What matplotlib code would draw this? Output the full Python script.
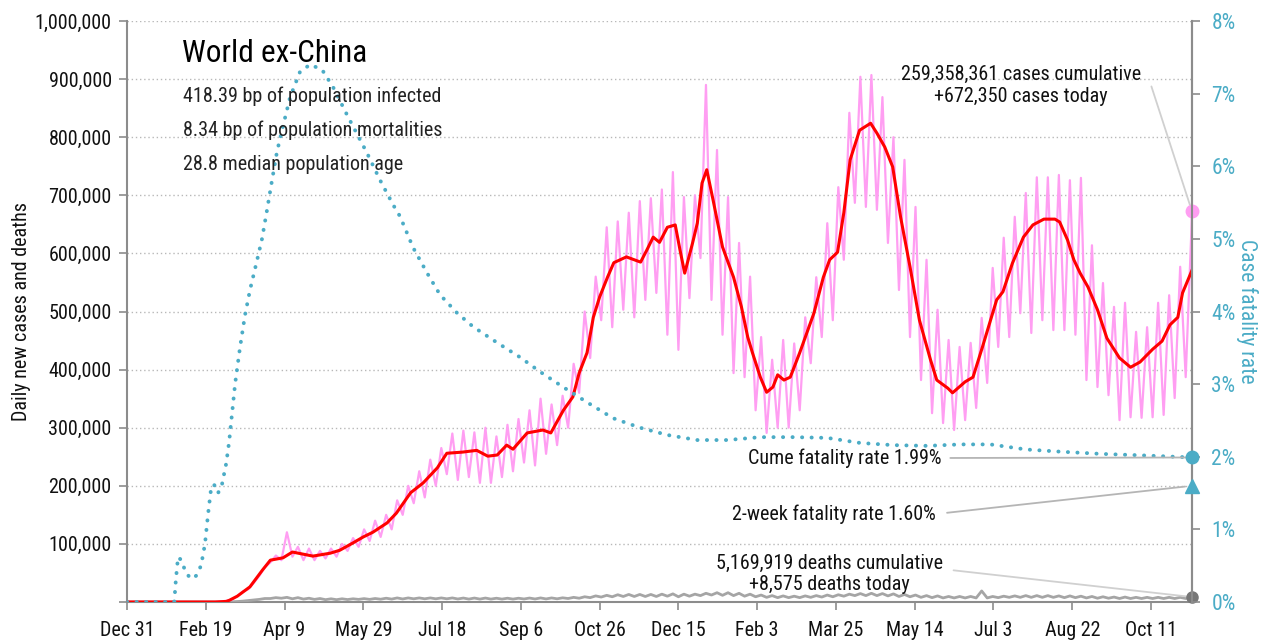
import matplotlib
matplotlib.use('Agg')
import matplotlib.pyplot as plt
from matplotlib.ticker import FuncFormatter

FONT = ['Roboto Condensed', 'Archivo Narrow', 'Liberation Sans', 'DejaVu Sans']
plt.rcParams['font.family'] = FONT

# ---------------- data ----------------
x_tick_days = [0, 50, 100, 150, 200, 250, 300, 350, 400, 450, 500, 550, 600, 650]
x_tick_labels = ['Dec 31', 'Feb 19', 'Apr 9', 'May 29', 'Jul 18', 'Sep 6', 'Oct 26',
                 'Dec 15', 'Feb 3', 'Mar 25', 'May 14', 'Jul 3', 'Aug 22', 'Oct 11']
last_day = 676

# 7-day average of daily new cases (thousands)
red_days = [0, 30, 56, 63, 65, 70, 78, 86, 91, 99, 105, 118, 129, 135, 143, 150, 156, 165,
            171, 180, 188, 197, 203, 213, 222, 229, 235, 241, 245, 254, 264, 269, 277, 283,
            287, 292, 296, 300, 305, 309, 317, 326, 330, 334, 338, 343, 348, 351, 354, 359,
            362, 365, 368, 372, 378, 385, 390, 394, 397, 402, 406, 410, 413, 417, 421, 427,
            436, 442, 446, 451, 455, 459, 465, 472, 476, 481, 486, 491, 497, 503, 510, 514,
            521, 524, 532, 537, 543, 552, 556, 562, 569, 575, 582, 589, 592, 597, 601, 605,
            610, 616, 622, 630, 637, 643, 651, 657, 662, 667, 670, 676]
red_vals = [0, 0, 0, 1, 3, 10, 26, 55, 72, 76, 86, 79, 84, 89, 101, 112, 120, 136,
            153, 188, 205, 231, 256, 258, 261, 251, 253, 270, 263, 291, 296, 291, 330, 353,
            394, 429, 490, 525, 559, 584, 594, 585, 606, 628, 619, 645, 649, 606, 566, 618,
            652, 721, 744, 692, 611, 559, 508, 456, 429, 387, 361, 370, 391, 382, 387, 429,
            497, 559, 589, 602, 670, 761, 812, 824, 807, 783, 749, 663, 577, 485, 417, 382,
            368, 360, 379, 387, 439, 520, 534, 583, 628, 649, 659, 659, 654, 623, 589, 566,
            542, 503, 454, 420, 404, 413, 435, 449, 477, 490, 532, 571]

# raw daily cases: weekly trough and peak (thousands), weeks starting at week_days
week_days = list(range(56, 673, 7))
pink_lo = [0, 2, 10, 22, 45, 68, 72, 78, 72, 72,
           75, 78, 88, 95, 105, 112, 125, 150, 170, 180,
           200, 220, 210, 215, 205, 205, 215, 225, 240, 235,
           255, 270, 300, 360, 420, 485, 473, 503, 490, 520,
           532, 460, 434, 523, 592, 520, 460, 394, 387, 330,
           291, 300, 300, 330, 411, 456, 485, 589, 687, 680,
           675, 618, 537, 456, 382, 325, 308, 296, 313, 334,
           377, 439, 456, 497, 463, 485, 468, 468, 460, 382,
           370, 356, 313, 318, 317, 318, 322, 351, 387]
pink_hi = [1, 4, 18, 33, 60, 80, 120, 95, 92, 88,
           92, 100, 110, 125, 140, 150, 175, 200, 225, 245,
           265, 290, 295, 292, 300, 285, 305, 315, 330, 350,
           340, 355, 410, 500, 560, 645, 655, 670, 690, 695,
           710, 740, 697, 700, 890, 778, 697, 618, 560, 456,
           417, 451, 445, 490, 559, 652, 714, 842, 904, 907,
           869, 800, 761, 680, 589, 503, 451, 439, 446, 489,
           575, 627, 663, 704, 731, 731, 735, 726, 730, 614,
           549, 508, 515, 465, 473, 515, 528, 577, 632]
cases_today = 672350

# daily deaths: weekly trough and peak (thousands)
death_lo = [0.0, 0.1, 0.8, 2.5, 4.5, 6.0, 6.5, 5.5, 5.0, 4.5,
            4.0, 4.0, 4.2, 4.5, 4.5, 4.8, 5.0, 5.2, 5.5, 5.5,
            5.5, 5.5, 5.2, 5.0, 5.0, 5.0, 5.0, 5.0, 5.2, 5.2,
            5.3, 5.5, 6.0, 6.5, 7.5, 8.5, 9.0, 9.5, 9.5, 9.5,
            9.5, 10.0, 9.0, 10.0, 11.0, 12.0, 11.5, 11.0, 10.0, 9.0,
            8.0, 7.5, 7.5, 7.5, 8.0, 8.5, 9.0, 10.0, 11.0, 11.0,
            11.0, 10.5, 9.5, 9.0, 8.0, 7.5, 7.0, 7.0, 7.0, 7.0,
            7.0, 7.5, 8.0, 8.0, 8.0, 8.0, 8.0, 7.5, 7.5, 7.0,
            6.5, 6.5, 6.0, 6.0, 6.0, 6.0, 6.0, 6.0, 6.0]
death_hi = [0.05, 0.3, 1.5, 3.5, 6.0, 7.5, 8.0, 7.5, 6.5, 6.0,
            5.5, 5.5, 5.5, 5.8, 6.0, 6.5, 7.0, 7.0, 7.0, 7.0,
            7.0, 7.0, 6.8, 6.8, 6.8, 6.5, 6.5, 6.5, 6.8, 7.0,
            7.0, 7.2, 8.0, 9.0, 10.5, 11.5, 12.5, 13.0, 13.0, 13.0,
            13.5, 14.0, 13.5, 13.5, 15.0, 16.0, 16.0, 15.0, 13.5, 12.0,
            11.0, 10.5, 10.0, 10.5, 11.0, 12.0, 12.5, 13.5, 14.5, 15.0,
            14.5, 14.0, 13.0, 12.0, 11.0, 10.5, 9.5, 9.5, 9.5, 19.0,
            9.5, 10.0, 10.5, 11.0, 11.0, 11.0, 10.5, 10.5, 10.0, 9.5,
            9.0, 8.5, 8.5, 8.0, 8.0, 8.0, 8.0, 8.0, 8.5]
deaths_today = 8575

# cumulative case fatality rate (%)
cfr_days = [0, 30, 31, 32.4, 34.3, 37.5, 40.6, 43.8, 47, 49.5, 51.4, 53.3, 55.2, 57.8,
            60.3, 62.9, 64.8, 66.7, 68.6, 71.7, 74.9, 78.1, 82.5, 85.7, 88.9, 92, 95.2,
            99, 103.5, 109.8, 116.2, 123.8, 130.8, 140.3, 152.4, 160.6, 168.9, 173.3,
            181.6, 190.5, 198.7, 209.5, 219.7, 235, 249.5, 262.2, 276.8, 292, 308.6,
            325.7, 342.9, 361.9, 381, 402, 422.9, 444.4, 465.4, 486.3, 508, 529, 548,
            570.8, 592.4, 617.8, 643.2, 676]
cfr_vals = [0, 0, 0.3, 0.62, 0.58, 0.40, 0.32, 0.36, 0.50, 0.80, 1.2, 1.55, 1.62, 1.50,
            1.62, 1.90, 2.2, 2.6, 3.0, 3.5, 3.95, 4.3, 4.7, 5.0, 5.4, 5.8, 6.2,
            6.55, 6.95, 7.3, 7.40, 7.33, 7.09, 6.68, 6.18, 5.81, 5.47, 5.31,
            4.88, 4.53, 4.23, 3.98, 3.79, 3.57, 3.37, 3.17, 2.96, 2.75, 2.53,
            2.40, 2.30, 2.23, 2.23, 2.27, 2.27, 2.26, 2.19, 2.16, 2.15, 2.17, 2.17,
            2.10, 2.07, 2.04, 2.02, 1.99]
cfr_2week = 1.60

title = 'World ex-China'
stats = ['418.39 bp of population infected', '8.34 bp of population mortalities',
         '28.8 median population age']
cases_note = '259,358,361 cases cumulative\n+672,350 cases today'
deaths_note = '5,169,919 deaths cumulative\n+8,575 deaths today'
cume_note = 'Cume fatality rate 1.99%'
week_note = '2-week fatality rate 1.60%'

# ---------------- build zigzag series ----------------
pink_x, pink_y, death_x, death_y = [], [], [], []
for d, lo, hi, dlo, dhi in zip(week_days, pink_lo, pink_hi, death_lo, death_hi):
    pink_x += [d, d + 3.5]
    pink_y += [lo * 1000, hi * 1000]
    death_x += [d, d + 3.5]
    death_y += [dlo * 1000, dhi * 1000]
pink_x = [0, 50] + pink_x + [last_day]
pink_y = [0, 0] + pink_y + [cases_today]
death_x = [0, 50] + death_x + [last_day]
death_y = [0, 0] + death_y + [deaths_today]

# ---------------- style ----------------
TEAL = '#4bacc6'
PINK = '#ff9ef2'
RED = '#ff0000'
DGREY = '#a5a5a5'
SPINE = '#8c8c8c'
TXT = '#111111'
FS = 14.5

W, H = 1265, 640
fig = plt.figure(figsize=(W / 100, H / 100), dpi=100)
L, R, T, B = 127, 1192, 21, 602
ax = fig.add_axes([L / W, 1 - B / H, (R - L) / W, (B - T) / H])
ax.set_xlim(0, last_day)
ax.set_ylim(0, 1_000_000)

ax.yaxis.grid(True, linestyle=(0, (1, 2)), color='#b8b8b8', lw=1)
ax.set_axisbelow(True)

ax.plot(death_x, death_y, color=DGREY, lw=2.0, zorder=3)
ax.plot(pink_x, pink_y, color=PINK, lw=1.6, zorder=4)
ax.plot(red_days, [v * 1000 for v in red_vals], color=RED, lw=2.2, zorder=5)

ax.plot([last_day], [cases_today], 'o', color=PINK, ms=9, clip_on=False, zorder=6)
ax.plot([last_day], [deaths_today], 'o', color='#777777', ms=8, clip_on=False, zorder=6)

ax.set_xticks(x_tick_days)
ax.set_xticklabels(x_tick_labels)
ax.set_yticks(range(0, 1_000_001, 100_000))
ax.yaxis.set_major_formatter(FuncFormatter(lambda v, p: '' if v == 0 else f'{int(v):,}'))

ax.spines['top'].set_visible(False)
for s in ['left', 'bottom', 'right']:
    ax.spines[s].set_color(SPINE)
    ax.spines[s].set_linewidth(1.5)
ax.tick_params(axis='both', colors=SPINE, length=6, width=1.2, labelsize=FS,
               labelcolor=TXT, pad=5)
ax.tick_params(axis='x', pad=8)
ax.set_ylabel('Daily new cases and deaths', fontsize=FS, color=TXT, labelpad=3)

ax2 = ax.twinx()
ax2.set_ylim(0, 8)
ax2.plot(cfr_days, cfr_vals, color=TEAL, lw=2.8, linestyle=(0, (0.05, 2.4)),
         dash_capstyle='round', zorder=3)
ax2.plot([last_day], [cfr_vals[-1]], 'o', color=TEAL, ms=9, clip_on=False, zorder=6)
ax2.plot([last_day], [cfr_2week], '^', color=TEAL, ms=10, clip_on=False, zorder=6)
ax2.set_yticks(range(0, 9))
ax2.yaxis.set_major_formatter(FuncFormatter(lambda v, p: f'{int(v)}%'))
ax2.tick_params(axis='y', colors=SPINE, length=6, width=1.2, labelsize=FS + 1,
                labelcolor=TEAL, pad=8)
for s in ['top', 'left', 'bottom']:
    ax2.spines[s].set_visible(False)
ax2.spines['right'].set_color(SPINE)
ax2.spines['right'].set_linewidth(1.5)
ax2.set_ylabel('Case fatality rate', fontsize=FS + 1, color=TEAL, rotation=270, labelpad=16)

# ---------------- text ----------------
def fp(x, y):
    return (x / W, 1 - y / H)

fig.text(*fp(182, 54), title, fontsize=22.5, va='center', ha='left', color='#000000')
for i, s in enumerate(stats):
    fig.text(*fp(183, 96 + 34 * i), s, fontsize=FS, va='center', ha='left', color='#222222')

LINE = '#b5b5b5'
ax.annotate(cases_note, xy=(last_day, cases_today), xycoords='data',
            xytext=fp(1021, 85), textcoords='figure fraction', ha='center', va='center',
            multialignment='center', fontsize=FS, color=TXT,
            arrowprops=dict(arrowstyle='-', color='#d0d0d0', lw=1.3, shrinkA=6, shrinkB=5,
                            relpos=(1, 0.55),
                            connectionstyle='angle,angleA=0,angleB=-72,rad=0'))
ax2.annotate(cume_note, xy=(last_day, cfr_vals[-1]), xycoords='data',
             xytext=fp(942, 458), textcoords='figure fraction', ha='right', va='center',
             fontsize=FS, color=TXT,
             arrowprops=dict(arrowstyle='-', color=LINE, lw=1.3, shrinkA=4, shrinkB=4,
                             relpos=(1, 0.5)))
ax2.annotate(week_note, xy=(last_day, cfr_2week), xycoords='data',
             xytext=fp(936, 514), textcoords='figure fraction', ha='right', va='center',
             fontsize=FS, color=TXT,
             arrowprops=dict(arrowstyle='-', color=LINE, lw=1.3, shrinkA=6, shrinkB=5,
                             relpos=(1, 0.5)))
ax.annotate(deaths_note, xy=(last_day, deaths_today), xycoords='data',
            xytext=fp(829, 574), textcoords='figure fraction', ha='center', va='center',
            multialignment='center', fontsize=FS, color=TXT,
            arrowprops=dict(arrowstyle='-', color='#d0d0d0', lw=1.3, shrinkA=6, shrinkB=4,
                            relpos=(1, 0.62)))

fig.savefig('out.png', dpi=100)
